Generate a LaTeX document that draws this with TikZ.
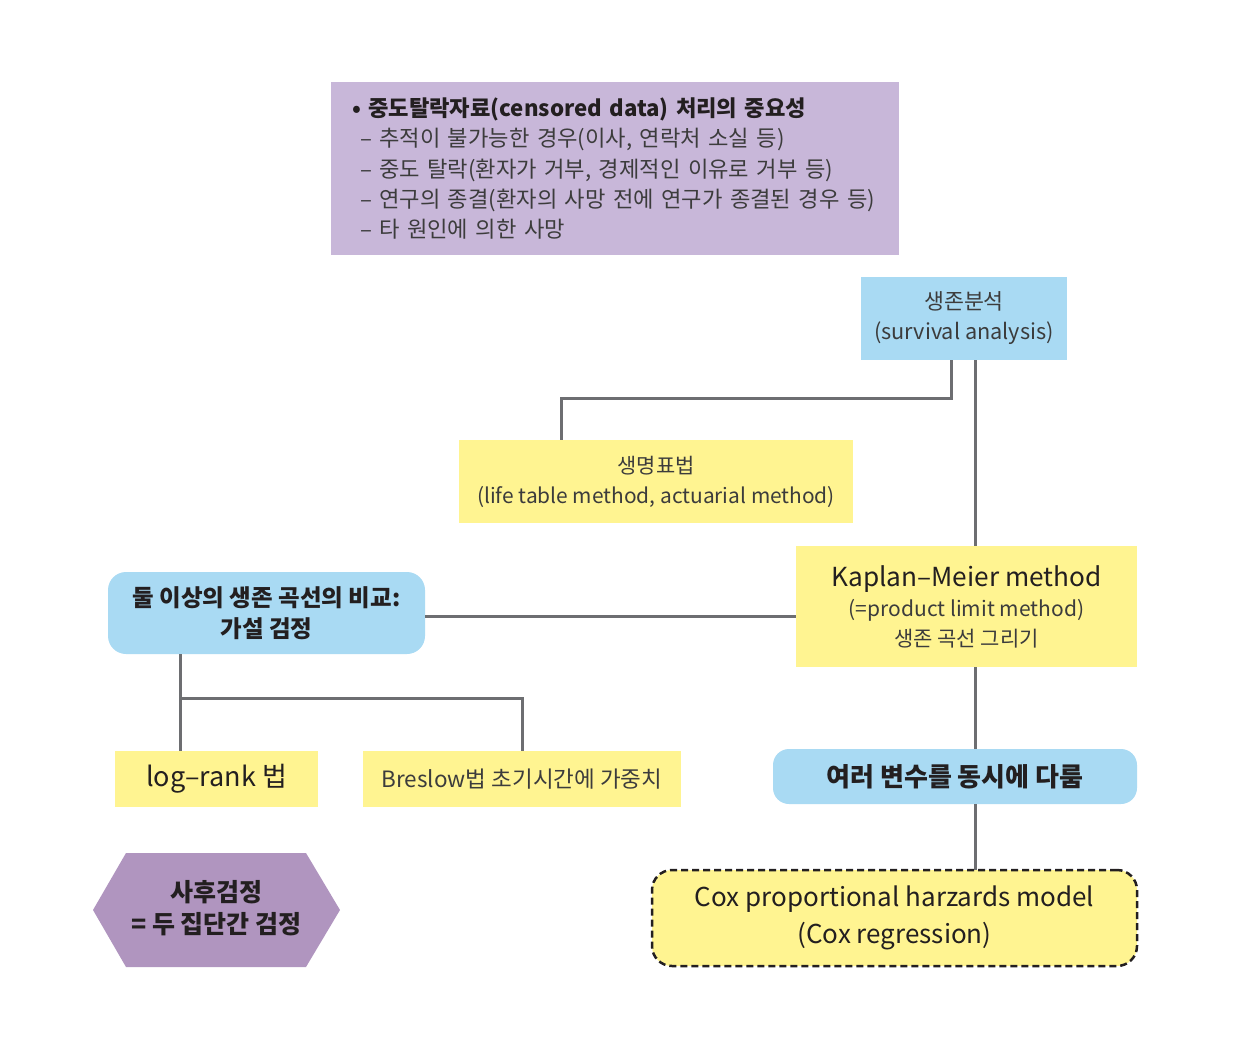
\documentclass[tikz,border=0pt]{standalone}
\usepackage{fontspec}
\setmainfont{Noto Sans CJK KR}
\usetikzlibrary{shapes.geometric}
\definecolor{toppurple}{HTML}{C8B7D9}
\definecolor{hexpurple}{HTML}{B095BF}
\definecolor{lblue}{HTML}{A9DAF3}
\definecolor{lyellow}{HTML}{FFF491}
\definecolor{conn}{HTML}{6D6E71}
\definecolor{txt}{HTML}{231F20}
\definecolor{ltxt}{HTML}{3C3C3C}
\tikzset{
  box/.style={inner sep=0pt, align=center, text=ltxt, font=\fontsize{21}{30}\selectfont},
  ybox/.style={box, fill=lyellow},
  bbox/.style={box, fill=lblue},
  rbox/.style={box, fill=lblue, rounded corners=18pt},
  link/.style={draw=conn, line width=3pt},
}
\begin{document}
\begin{tikzpicture}[x=1pt,y=-1pt]
\useasboundingbox (0,0) rectangle (1237,1060);
% top box
\node[box, fill=toppurple, minimum width=568pt, minimum height=173pt, text width=526pt, align=left,
      font=\fontsize{22.2}{30.3}\selectfont] (top) at (615,168.5)
  {{\color{txt}\bfseries • 중도탈락자료(censored data) 처리의 중요성}\\
   \hspace*{8pt}– 추적이 불가능한 경우(이사, 연락처 소실 등)\\
   \hspace*{8pt}– 중도 탈락(환자가 거부, 경제적인 이유로 거부 등)\\
   \hspace*{8pt}– 연구의 종결(환자의 사망 전에 연구가 종결된 경우 등)\\
   \hspace*{8pt}– 타 원인에 의한 사망};
% survival analysis
\node[bbox, minimum width=206pt, minimum height=83pt, font=\fontsize{21.7}{30}\selectfont] (surv) at (964,318.5)
  {생존분석\\(survival analysis)};
% life table
\node[ybox, minimum width=394pt, minimum height=83pt, font=\fontsize{20.9}{30}\selectfont] (life) at (656,481.5)
  {생명표법\\(life table method, actuarial method)};
% Kaplan-Meier
\node[ybox, minimum width=341pt, minimum height=121pt, font=\fontsize{21}{29.5}\selectfont] (km) at (966.5,606.5)
  {{\color{txt}\fontsize{26.2}{36}\selectfont Kaplan–Meier method}\\[1pt]
   (=product limit method)\\
   생존 곡선 그리기};
% comparison
\node[rbox, minimum width=317pt, minimum height=82pt, text=txt, font=\fontsize{23.5}{31}\bfseries] (cmp) at (266.5,613)
  {둘 이상의 생존 곡선의 비교:\\가설 검정};
% log-rank
\node[ybox, minimum width=203pt, minimum height=56pt, text=txt, font=\fontsize{27}{30}\selectfont] (lr) at (216.5,779)
  {log–rank 법};
% Breslow
\node[ybox, minimum width=318pt, minimum height=56pt, font=\fontsize{22.5}{30}\selectfont] (bres) at (522,779)
  {Breslow법 초기시간에 가중치};
% multi variables
\node[rbox, rounded corners=16pt, minimum width=364pt, minimum height=55pt, text=txt, font=\fontsize{26}{30}\bfseries] (multi) at (955,776.5)
  {여러 변수를 동시에 다룸};
% Cox
\node[ybox, draw=txt, dashed, dash pattern=on 7pt off 4pt, line width=2.5pt, rounded corners=20pt,
      minimum width=485pt, minimum height=96pt, text=txt, font=\fontsize{26}{37}\selectfont] (cox) at (894.5,918)
  {Cox proportional harzards model\\(Cox regression)};
% hexagon
\fill[hexpurple] (93,910) -- (126,853) -- (306,853) -- (340,910) -- (306,967) -- (126,967) -- cycle;
\node[box, text=txt, font=\fontsize{25}{32}\bfseries] (post) at (216.5,908)
  {사후검정\\= 두 집단간 검정};
% connectors
\coordinate (s1) at (951,360);
\coordinate (s2) at (975,360);
\coordinate (c1) at (425,616);
\coordinate (k1) at (796,616);
\draw[link] (s1) |- (561,398) -- (561,440);
\draw[link] (s2) -- (975,546);
\draw[link] (c1) -- (k1);
\draw[link] (975,667) -- (975,749);
\draw[link] (975,804) -- (975,870);
\draw[link] (180,654) -- (180,751);
\draw[link] (180,698) -| (522,751);
\end{tikzpicture}
\end{document}
